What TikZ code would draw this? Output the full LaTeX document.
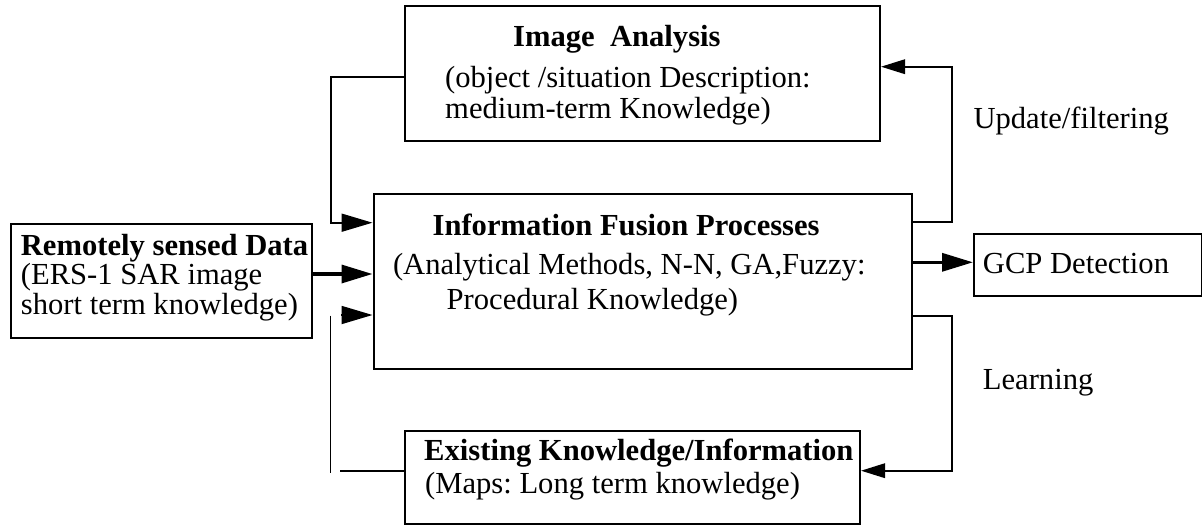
\documentclass[tikz,border=0pt]{standalone}
\usepackage{fontspec}
\setmainfont{Liberation Serif}
\usetikzlibrary{arrows.meta}
\frenchspacing

\tikzset{
  box/.style={draw=black, line width=2pt, fill=none, inner sep=0pt, anchor=north west},
  txt/.style={inner sep=0pt, anchor=base west, font=\fontsize{30.6pt}{30.6pt}\selectfont},
  bold/.style={txt, font=\fontsize{30.6pt}{30.6pt}\selectfont\bfseries},
  thin/.style={line width=1.8pt},
  thick/.style={line width=3.4pt},
  bigtip/.style={-{Triangle[length=31pt,width=18pt]}},
  smalltip/.style={-{Triangle[length=24pt,width=14.5pt]}},
}

\begin{document}
\begin{tikzpicture}[x=1pt,y=-1pt]
\useasboundingbox (0,0) rectangle (1202,525);

% boxes
\node[box, minimum width=475pt, minimum height=135pt] (ia)  at (404,5) {};
\node[box, minimum width=538pt, minimum height=175pt] (fus) at (372.5,192.5) {};
\node[box, minimum width=300.5pt, minimum height=114pt] (rs) at (10,223) {};
\node[box, minimum width=227.5pt, minimum height=62pt] (gcp) at (973,233) {};
\node[box, minimum width=455pt, minimum height=93pt] (ex) at (404,430) {};

% box texts
\node[bold] (iaT) at (513,46.7) {Image~ Analysis};
\node[txt] (iaA) at (445,87.7) {(object /situation Description:};
\node[txt] (iaB) at (445,118.3) {medium-term Knowledge)};

\node[bold] (fusT) at (432.4,235.4) {Information Fusion Processes};
\node[txt] (fusA) at (392.8,274.5) {(Analytical Methods, N-N, GA,Fuzzy:};
\node[txt] (fusB) at (446.5,309.5) {Procedural Knowledge)};

\node[bold] (rsT) at (20.7,255) {Remotely sensed Data};
\node[txt] (rsA) at (20.7,284) {(ERS-1 SAR image};
\node[txt] (rsB) at (20.7,314) {short term knowledge)};

\node[txt] (gcpT) at (982.7,273.3) {GCP Detection};

\node[bold] (exT) at (424,460.7) {Existing Knowledge/Information};
\node[txt] (exA) at (425,493) {(Maps: Long term knowledge)};

% side labels
\node[txt] (upd) at (973.3,128.3) {Update/filtering};
\node[txt] (lrn) at (982.7,389) {Learning};

% connectors
\coordinate (lt) at (331,77);
\coordinate (lb) at (331,222.7);
\draw[thin, bigtip] (ia.west |- lt) -- (lt) -- (lb) -- (fus.west |- lb);

\draw[thick, bigtip] (rs.east |- 0,274) -- (fus.west |- 0,274);

\coordinate (kt) at (330.5,315.5);
\coordinate (kb) at (330.5,472.5);
\coordinate (kh) at (341,315);
\coordinate (ke) at (340,470.7);
\draw[thin] (kt) -- (kb);
\draw[thin, bigtip] (kh) -- (fus.west |- kh);
\draw[thin] (ke) -- (ex.west |- ke);

\coordinate (ub) at (952,222.3);
\coordinate (ut) at (952,66.7);
\draw[thin, smalltip] (fus.east |- ub) -- (ub) -- (ut) -- (ia.east |- ut);

\draw[thick, bigtip] (fus.east |- 0,262.3) -- (gcp.west |- 0,262.3);

\coordinate (gt) at (952,316);
\coordinate (gb) at (952,470.7);
\draw[thin, smalltip] (fus.east |- gt) -- (gt) -- (gb) -- (ex.east |- gb);
\end{tikzpicture}
\end{document}
